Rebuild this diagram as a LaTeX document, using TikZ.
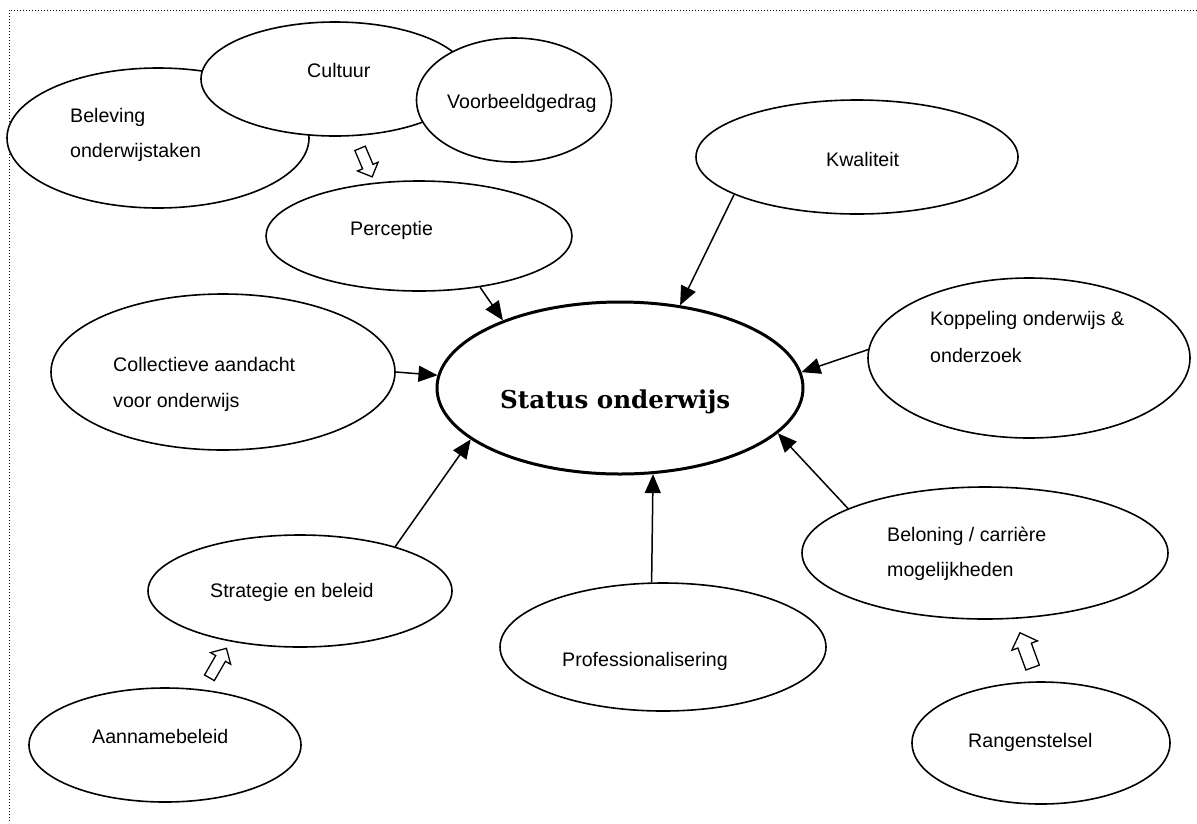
\documentclass[tikz,border=0pt]{standalone}
\usepackage{fontspec}
\setmainfont{Liberation Sans}
\newfontfamily\statusfont{DejaVu Serif}
\usetikzlibrary{arrows.meta,shapes.geometric,shapes.arrows}
\begin{document}
\begin{tikzpicture}[x=1pt,y=-1pt,
  oval/.style={ellipse, draw, line width=1.6pt, fill=white, inner sep=0pt},
  lbl/.style={anchor=base west, inner sep=0pt, font=\fontsize{19.6}{23}\selectfont},
  arr/.style={line width=1.5pt, -{Triangle[length=19pt,width=16pt]}},
  blockarr/.style={single arrow, draw, fill=white, line width=1.3pt, inner xsep=0pt}]
\useasboundingbox (0,0) rectangle (1197,823);
% border
\draw[line width=1pt, dash pattern=on 1pt off 2pt] (1197,10) -- (9,10) -- (9,823);
% top cluster
\node[oval, minimum width=302pt, minimum height=140pt] (bel) at (158,138) {};
\node[lbl] (belT) at (70,122) {Beleving};
\node[lbl] (belT2) at (70,157) {onderwijstaken};
\node[oval, minimum width=268pt, minimum height=114pt] (cult) at (335,79) {};
\node[lbl] (cultT) at (307,77) {Cultuur};
\node[oval, minimum width=195pt, minimum height=124pt] (voor) at (514,100) {};
\node[lbl] (voorT) at (447,108) {Voorbeeldgedrag};
% others
\node[oval, minimum width=322pt, minimum height=114pt] (kwal) at (857,157) {};
\node[lbl] (kwalT) at (826,166) {Kwaliteit};
\node[oval, minimum width=306pt, minimum height=110pt] (perc) at (419,236) {};
\node[lbl] (percT) at (350,235) {Perceptie};
\node[oval, minimum width=344pt, minimum height=156pt] (coll) at (223,372) {};
\node[lbl] (collT) at (113,371) {Collectieve aandacht};
\node[lbl] (collT2) at (113,407) {voor onderwijs};
\node[oval, line width=3pt, minimum width=366pt, minimum height=172pt] (status) at (620,388) {};
\node[anchor=base west, inner sep=0pt, font=\statusfont\bfseries\fontsize{24.6}{29}\selectfont] (statusT) at (500,408) {Status onderwijs};
\node[oval, minimum width=322pt, minimum height=160pt] (kopp) at (1029,358) {};
\node[lbl] (koppT) at (930,325) {Koppeling onderwijs \&};
\node[lbl] (koppT2) at (930,362) {onderzoek};
\node[oval, minimum width=304pt, minimum height=112pt] (strat) at (300,591) {};
\node[lbl] (stratT) at (210,597) {Strategie en beleid};
\node[oval, minimum width=326pt, minimum height=128pt] (prof) at (663,647) {};
\node[lbl] (profT) at (562,666) {Professionalisering};
\node[oval, minimum width=366pt, minimum height=132pt] (belo) at (985,553) {};
\node[lbl] (beloT) at (887,541) {Beloning / carrière};
\node[lbl] (beloT2) at (887,576) {mogelijkheden};
\node[oval, minimum width=272pt, minimum height=114pt] (aann) at (165,745) {};
\node[lbl] (aannT) at (92,743) {Aannamebeleid};
\node[oval, minimum width=258pt, minimum height=122pt] (rang) at (1041,743) {};
\node[lbl] (rangT) at (968,747) {Rangenstelsel};
% connectors
\draw[arr] (perc.-40) -- (status.150);
\draw[arr] (kwal.197) -- (status.54);
\draw[arr] (kopp.177) -- (status.5);
\draw[arr] (coll.east) -- (status.176);
\draw[arr] (strat.25) -- (status.199);
\draw[arr] (prof.100) -- (status.-69);
\draw[arr] (belo.162) -- (status.-16);
% block arrows
\node[blockarr, inner ysep=5pt, single arrow head extend=5.5pt, minimum height=31pt, rotate=-67] (ba1) at (365,160) {};
\node[blockarr, inner ysep=5pt, single arrow head extend=6pt, minimum height=34pt, rotate=60] (ba2) at (216.5,665.5) {};
\node[blockarr, inner ysep=6.5pt, single arrow head extend=6.5pt, minimum height=37pt, rotate=110] (ba3) at (1027.5,653.5) {};
\end{tikzpicture}
\end{document}
